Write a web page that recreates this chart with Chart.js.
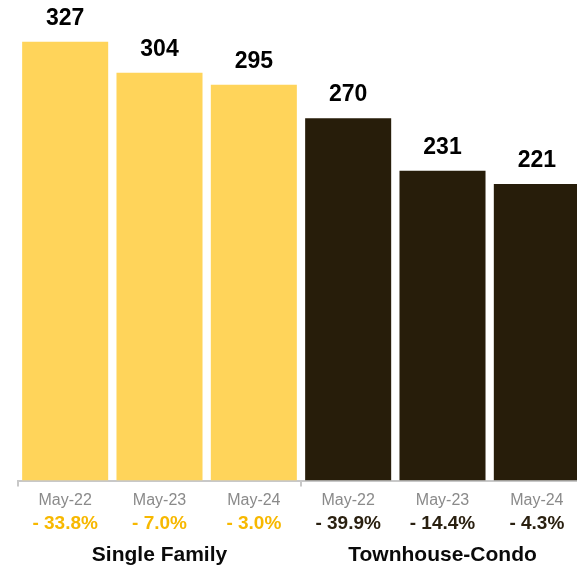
<!DOCTYPE html>
<html>
<head>
<meta charset="utf-8">
<script src="https://cdn.jsdelivr.net/npm/chart.js@4"></script>
<style>
  html, body { margin: 0; padding: 0; background: #fff; overflow: hidden; width: 577px; height: 568px; }
  #wrap { width: 602px; height: 578px; }
</style>
</head>
<body>
<div id="wrap"><canvas id="mychart" width="602" height="578"></canvas></div>
<script>
// data
const months = ['May-22', 'May-23', 'May-24', 'May-22', 'May-23', 'May-24']
const changes = ['- 33.8%', '- 7.0%', '- 3.0%', '- 39.9%', '- 14.4%', '- 4.3%']
const groups = ['Single Family', 'Townhouse-Condo']
const sales = [327, 304, 295, 270, 231, 221]

const yellow = '#FFD45A'
const dark = '#271D0A'
const barColors = [yellow, yellow, yellow, dark, dark, dark]
const changeColors = ['#F7B800', '#F7B800', '#F7B800', '#2A2010', '#2A2010', '#2A2010']
const fontFam = '"Liberation Sans", Arial, Helvetica, sans-serif'

// value labels on top of the bars
const topLabels = {
    id: 'topLabels',
    afterDatasetsDraw(chart) {
        const ctx = chart.ctx
        const meta = chart.getDatasetMeta(0)
        ctx.save()
        ctx.font = 'bold 23px ' + fontFam
        ctx.fillStyle = '#000'
        ctx.textAlign = 'center'
        ctx.textBaseline = 'alphabetic'
        meta.data.forEach((bar, i) => {
            ctx.fillText(sales[i], bar.x, bar.y - 17)
        })
        ctx.restore()
    }
}

const ctx = document.getElementById('mychart').getContext('2d')
const mychart = new Chart(ctx, {
    type: 'bar',
    data: {
        labels: months,
        datasets: [
            {
                data: sales,
                backgroundColor: barColors,
                borderWidth: 0,
                barPercentage: 0.912,
                categoryPercentage: 1
            }
        ]
    },
    options: {
        responsive: false,
        animation: false,
        devicePixelRatio: 1,
        layout: {
            padding: { left: 18, right: 18, top: 11, bottom: 0 }
        },
        plugins: {
            legend: { display: false },
            tooltip: { enabled: false }
        },
        scales: {
            y: {
                display: false,
                min: 0,
                max: 350
            },
            x: {
                position: 'bottom',
                weight: 1,
                grid: {
                    display: true,
                    drawOnChartArea: false,
                    drawTicks: true,
                    tickLength: 6,
                    lineWidth: 2,
                    color: (c) => (c.index === 0 || c.index === 3) ? '#C8C8C8' : 'rgba(0,0,0,0)'
                },
                border: { display: true, color: '#C8C8C8', width: 2 },
                ticks: {
                    autoSkip: false,
                    maxRotation: 0,
                    padding: 4,
                    color: '#8A8A8A',
                    font: { family: fontFam, size: 16 }
                }
            },
            x2: {
                type: 'category',
                position: 'bottom',
                weight: 2,
                labels: changes,
                offset: true,
                grid: { display: false, drawTicks: false, tickLength: 0 },
                border: { display: false },
                ticks: {
                    autoSkip: false,
                    maxRotation: 0,
                    padding: 0,
                    color: (c) => changeColors[c.index],
                    font: { family: fontFam, size: 19, weight: 'bold', lineHeight: 1 }
                }
            },
            x3: {
                type: 'category',
                position: 'bottom',
                weight: 3,
                labels: groups,
                offset: true,
                grid: { display: false, drawTicks: false, tickLength: 0 },
                border: { display: false },
                ticks: {
                    autoSkip: false,
                    maxRotation: 0,
                    padding: 10,
                    color: '#0A0A0A',
                    font: { family: fontFam, size: 21, weight: 'bold' }
                }
            }
        }
    },
    plugins: [topLabels]
})
</script>
</body>
</html>
